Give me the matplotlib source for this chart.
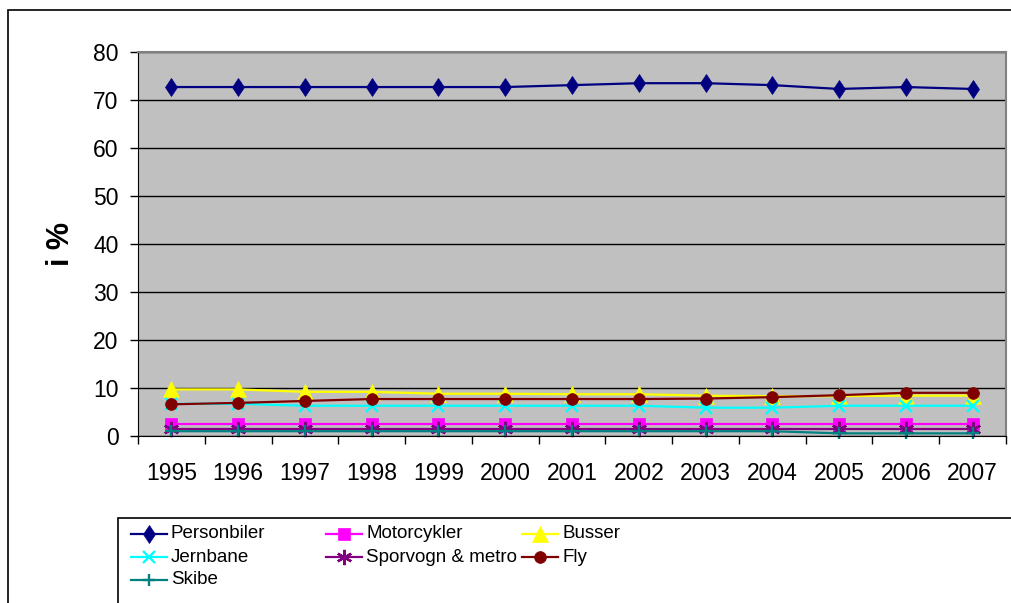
import matplotlib.pyplot as plt
from matplotlib.lines import Line2D
from matplotlib.patches import Rectangle
from matplotlib.ticker import FixedLocator

plt.rcParams['font.family'] = ['Liberation Sans', 'DejaVu Sans']

# Data
years = ['1995', '1996', '1997', '1998', '1999', '2000', '2001',
         '2002', '2003', '2004', '2005', '2006', '2007']
personbiler = [72.7, 72.7, 72.7, 72.7, 72.7, 72.7, 73.1, 73.5, 73.5, 73.1, 72.3, 72.7, 72.3]
motorcykler = [2.6, 2.6, 2.6, 2.6, 2.6, 2.6, 2.6, 2.6, 2.6, 2.6, 2.6, 2.6, 2.6]
busser = [9.7, 9.7, 9.2, 9.2, 8.8, 8.8, 8.7, 8.7, 8.4, 8.3, 8.3, 8.4, 8.4]
jernbane = [6.7, 6.7, 6.3, 6.3, 6.3, 6.3, 6.3, 6.3, 5.9, 5.9, 6.3, 6.3, 6.3]
sporvogn = [1.4, 1.4, 1.4, 1.4, 1.4, 1.4, 1.4, 1.4, 1.4, 1.4, 1.4, 1.4, 1.4]
fly = [6.6, 6.9, 7.3, 7.7, 7.7, 7.7, 7.7, 7.7, 7.8, 8.1, 8.5, 9.0, 9.0]
skibe = [1.0, 1.0, 1.0, 1.0, 1.0, 1.0, 1.0, 1.0, 1.0, 1.0, 0.55, 0.55, 0.55]

series = [
    ('Personbiler', personbiler, '#000080', 'd', 9.5),
    ('Motorcykler', motorcykler, '#FF00FF', 's', 8),
    ('Busser', busser, '#FFFF00', '^', 11),
    ('Jernbane', jernbane, '#00FFFF', 'x', 9),
    ('Sporvogn & metro', sporvogn, '#800080', (6, 2, 0), 11),
    ('Fly', fly, '#800000', 'o', 8.5),
    ('Skibe', skibe, '#008080', '+', 9),
]
thin = ('x', '+', (6, 2, 0))

W, H = 1012, 603
fig = plt.figure(figsize=(W / 100, H / 100), dpi=100)
ax = fig.add_axes([138 / W, 1 - 436 / H, 868 / W, 384 / H])
ax.set_facecolor('#C0C0C0')

x = list(range(len(years)))
for name, vals, col, mk, ms in series:
    ax.plot(x, vals, color=col, lw=1.6, marker=mk, markersize=ms,
            markeredgewidth=1.7 if mk in thin else 0.5,
            markeredgecolor=col, markerfacecolor=col, label=name, clip_on=False)

ax.set_xlim(-0.5, len(years) - 0.5)
ax.set_ylim(0, 80)
ax.set_yticks(range(0, 81, 10))
ax.tick_params(axis='y', labelsize=16.5, length=6, width=1, pad=8, color='black')
ax.set_xticks(x)
ax.set_xticklabels(years)
ax.tick_params(axis='x', which='major', length=0, labelsize=16.5, pad=19)
ax.xaxis.set_minor_locator(FixedLocator([i - 0.5 for i in range(len(years) + 1)]))
ax.tick_params(axis='x', which='minor', length=6, width=1, color='black')
ax.grid(axis='y', color='black', lw=1)
ax.set_axisbelow(True)

for side in ('top', 'right'):
    ax.spines[side].set_color('#808080')
    ax.spines[side].set_linewidth(1.5)
ax.spines['left'].set_color('black')
ax.spines['bottom'].set_color('black')

ax.set_ylabel('i %', fontsize=22, fontweight='bold')
ax.yaxis.set_label_coords(-0.072, 0.5)

# Outer chart frame and legend box (they run off the right/bottom edge)
fig.patches.append(Rectangle((8 / W, -0.1), 1.2, 1 - 10 / H + 0.1, transform=fig.transFigure,
                             fill=False, edgecolor='black', lw=1.2))
fig.patches.append(Rectangle((118 / W, -0.1), 1.2, 1 - 518 / H + 0.1, transform=fig.transFigure,
                             fill=False, edgecolor='black', lw=1.2))

# Legend entries in fixed-width columns like the original
col_x = [131, 326, 522]
row_y = [534, 557, 580]
for i, (name, vals, col, mk, ms) in enumerate(series):
    cx = col_x[i % 3]
    cy = row_y[i // 3]
    fy = 1 - cy / H
    fig.add_artist(Line2D([cx / W, (cx + 36) / W], [fy, fy], transform=fig.transFigure,
                          color=col, lw=1.6))
    fig.add_artist(Line2D([(cx + 18) / W], [fy], transform=fig.transFigure,
                          marker=mk, markersize=ms, color=col, markerfacecolor=col,
                          markeredgecolor=col,
                          markeredgewidth=1.7 if mk in thin else 0.5))
    fig.text((cx + 40) / W, fy, name, fontsize=13.5, va='center', ha='left')

fig.savefig('out.png', dpi=100)
